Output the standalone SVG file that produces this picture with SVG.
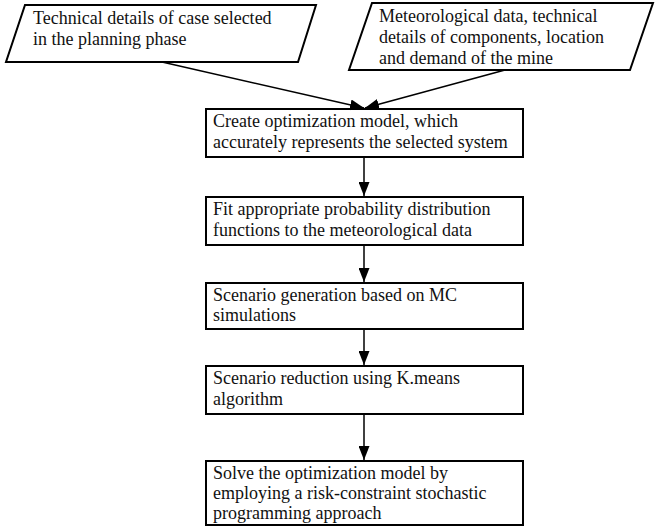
<svg xmlns="http://www.w3.org/2000/svg" width="655" height="527" viewBox="0 0 655 527">
<defs>
<marker id="ah" viewBox="0 0 14 11" refX="14" refY="5.5" markerWidth="14" markerHeight="11" markerUnits="userSpaceOnUse" orient="auto">
<path d="M0,0 L14,5.5 L0,11 Z" fill="#000"/>
</marker>
<style>
.box{fill:#fff;stroke:#000;stroke-width:2}
.para{fill:#fff;stroke:#000;stroke-width:2}
.t{font-family:"Liberation Serif","Times New Roman",serif;font-size:18px;fill:#111}
.c{stroke:#000;stroke-width:1.5;fill:none;marker-end:url(#ah)}
</style>
</defs>
<rect width="655" height="527" fill="#fff"/>
<g id="in1">
<polygon class="para" points="25,5 316,5 298,62 6,62"/>
<text class="t" x="33" y="24">Technical details of case selected</text>
<text class="t" x="33" y="45">in the planning phase</text>
</g>
<g id="in2">
<polygon class="para" points="372,3 653,3 630,70 349,70"/>
<text class="t" x="379" y="22">Meteorological data, technical</text>
<text class="t" x="379" y="43">details of components, location</text>
<text class="t" x="379" y="64">and demand of the mine</text>
</g>
<g id="s1">
<rect class="box" x="206" y="109" width="317" height="48"/>
<text class="t" x="213" y="127">Create optimization model, which</text>
<text class="t" x="213" y="148">accurately represents the selected system</text>
</g>
<g id="s2">
<rect class="box" x="206" y="197" width="317" height="48"/>
<text class="t" x="213" y="215">Fit appropriate probability distribution</text>
<text class="t" x="213" y="236">functions to the meteorological data</text>
</g>
<g id="s3">
<rect class="box" x="206" y="283" width="317" height="46"/>
<text class="t" x="213" y="301">Scenario generation based on MC</text>
<text class="t" x="213" y="321">simulations</text>
</g>
<g id="s4">
<rect class="box" x="206" y="366" width="317" height="48"/>
<text class="t" x="213" y="384">Scenario reduction using K.means</text>
<text class="t" x="213" y="405">algorithm</text>
</g>
<g id="s5">
<rect class="box" x="206" y="461" width="317" height="64"/>
<text class="t" x="213" y="479">Solve the optimization model by</text>
<text class="t" x="213" y="499">employing a risk-constraint stochastic</text>
<text class="t" x="213" y="519">programming approach</text>
</g>
<g id="connectors">
<line class="c" x1="162" y1="62" x2="364" y2="108"/>
<line class="c" x1="505" y1="70" x2="365" y2="108"/>
<line class="c" x1="364" y1="157" x2="364" y2="196"/>
<line class="c" x1="364" y1="245" x2="364" y2="282"/>
<line class="c" x1="364" y1="329" x2="364" y2="365"/>
<line class="c" x1="364" y1="414" x2="364" y2="460"/>
</g>
</svg>
